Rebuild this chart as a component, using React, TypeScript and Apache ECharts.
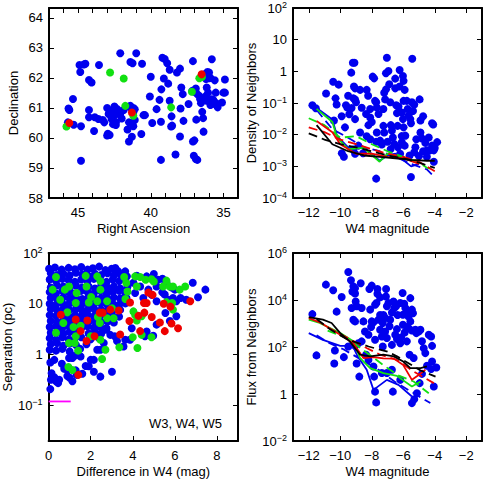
import React, { useEffect, useRef } from "react";
import * as echarts from "echarts";

// ---------- Panel 1: Right Ascension vs Declination ----------
const raDecBlue: [number, number][] = [
  [44.9, 62.43], [44.6, 62.45], [44.5, 62.47], [44.85, 62.2], [43.56, 62.43], [44.25, 61.93], [44.07, 61.85],
  [45.35, 61.3], [45.66, 60.98], [45.6, 60.93], [45.7, 60.52], [45.3, 60.44], [44.8, 60.39], [44.8, 59.24],
  [44.25, 60.93], [44.25, 60.69], [43.85, 60.69], [43.6, 60.63], [43.9, 60.23], [43.3, 60.6], [43.2, 60.52],
  [43.0, 61.0], [42.9, 60.8], [42.7, 60.9], [42.7, 60.63], [42.5, 61.05], [42.5, 60.75], [42.4, 60.52],
  [42.4, 60.43], [42.6, 60.46], [42.95, 60.14], [42.83, 60.1], [43.0, 60.08], [42.3, 60.96], [42.1, 60.8],
  [42.0, 60.65], [41.86, 60.93], [41.5, 61.05], [41.4, 61.07], [41.3, 60.96], [41.2, 61.0], [41.1, 60.96],
  [41.2, 60.85], [41.1, 60.6], [41.2, 60.39], [41.5, 60.52], [41.6, 60.28], [41.5, 59.88], [41.3, 60.04],
  [40.65, 60.13], [40.5, 60.76], [40.4, 60.76], [42.1, 62.82], [41.4, 62.53], [41.25, 62.49], [41.0, 62.82],
  [40.6, 62.47], [40.0, 62.04], [40.06, 61.38], [39.9, 60.5], [39.6, 60.96], [39.4, 61.27], [39.27, 61.62],
  [39.2, 62.67], [39.04, 62.63], [39.1, 61.98], [39.3, 60.54], [39.3, 59.27], [38.87, 62.49], [38.7, 62.27],
  [38.8, 61.81], [38.7, 61.24], [38.57, 60.72], [38.53, 60.41], [38.6, 60.38], [38.3, 59.45], [38.2, 62.18],
  [37.99, 62.31], [37.9, 61.68], [37.8, 61.46], [37.95, 60.98], [37.75, 60.57], [37.99, 60.05], [37.4, 61.13],
  [37.1, 62.56], [37.15, 61.57], [37.0, 61.54], [37.1, 59.88], [37.0, 59.92], [37.04, 59.41], [36.9, 59.3],
  [36.8, 59.27], [36.87, 60.61], [36.9, 61.65], [36.8, 61.46], [36.66, 61.4], [36.6, 61.29], [36.55, 61.16],
  [36.5, 61.29], [36.46, 60.87], [36.4, 60.66], [36.37, 60.21], [36.3, 62.12], [36.2, 61.96], [36.1, 62.2],
  [35.99, 62.18], [35.99, 61.99], [35.9, 62.0], [36.15, 61.68], [36.06, 61.51], [36.2, 61.4], [36.15, 61.24],
  [35.8, 61.29], [35.7, 61.27], [35.8, 62.62], [35.6, 61.92], [35.53, 61.51], [35.6, 61.13], [35.5, 61.16],
  [35.4, 61.02], [35.1, 61.18], [35.0, 61.51], [34.9, 61.51], [34.9, 61.95], [35.9, 61.1],
];
const raDecGreen: [number, number][] = [
  [45.8, 60.38], [42.8, 62.18], [41.86, 61.98], [41.75, 61.07], [41.2, 60.74], [38.6, 61.02],
  [37.17, 61.54], [36.66, 61.99], [36.48, 62.03],
];
const raDecRed: [number, number][] = [[45.6, 60.5], [41.3, 60.85], [36.5, 62.12]];

// ---------- Panel 2: Density of Neighbors vs W4 magnitude ----------
const densPoints: [number, number][] = [
  [-11.77, 0.085], [-11.55, 0.068], [-10.9, 0.2], [-10.45, 0.47], [-10.1, 0.38], [-10.3, 0.14], [-10.23, 0.09],
  [-10.4, 0.028], [-9.91, 0.038], [-9.64, 0.085], [-9.55, 0.072], [-9.5, 0.17], [-9.7, 0.017], [-9.9, 0.0026],
  [-9.77, 0.002], [-9.43, 0.044], [-9.28, 0.069], [-9.3, 0.91], [-9.2, 1.86], [-9.1, 1.86], [-9.13, 0.33],
  [-9.06, 0.29], [-9.17, 0.14], [-9.06, 0.13], [-9.0, 0.105], [-9.06, 0.031], [-9.17, 0.0034], [-9.06, 0.0025],
  [-8.74, 0.26], [-8.64, 0.071], [-8.74, 0.0117], [-8.55, 0.0026], [-8.85, 0.0045], [-8.32, 0.26], [-8.23, 0.17],
  [-8.36, 0.045], [-8.1, 0.065], [-8.1, 0.035], [-8.0, 0.025], [-8.21, 0.02], [-8.32, 0.0089], [-8.1, 0.0072],
  [-7.94, 0.68], [-7.85, 0.6], [-7.79, 0.117], [-7.72, 0.105], [-7.68, 0.072], [-7.57, 0.045], [-7.68, 0.0117],
  [-7.72, 0.006], [-7.47, 0.0065], [-7.36, 0.0049], [-7.72, 0.00041], [-7.26, 0.019], [-7.21, 0.0117],
  [-7.26, 0.065], [-7.15, 0.13], [-7.21, 0.21], [-7.09, 0.27], [-7.04, 2.7], [-7.1, 0.87], [-6.94, 1.02],
  [-6.89, 0.39], [-6.83, 0.105], [-6.79, 0.02], [-6.72, 0.0135], [-6.66, 0.0081], [-6.57, 0.0051], [-6.51, 0.29],
  [-6.51, 0.59], [-6.45, 0.085], [-6.4, 0.048], [-6.3, 0.078], [-6.36, 0.019], [-6.34, 0.004], [-6.23, 0.33],
  [-6.23, 1.1], [-6.02, 0.71], [-5.98, 0.5], [-5.91, 0.26], [-5.98, 0.117], [-6.09, 0.05], [-6.02, 0.031],
  [-5.98, 0.017], [-5.87, 0.0093], [-5.91, 0.0045], [-6.09, 0.0058], [-5.77, 0.117], [-5.72, 0.065], [-5.66, 0.04],
  [-5.55, 0.031], [-5.51, 0.023], [-5.45, 0.105], [-5.38, 0.056], [-5.43, 2.5], [-5.51, 0.00046], [-5.3, 0.089],
  [-5.23, 0.004], [-5.17, 0.0072], [-4.96, 0.13], [-4.91, 0.028], [-4.91, 0.0117], [-4.81, 0.0076], [-4.74, 0.003],
  [-4.6, 0.0055], [-4.49, 0.0032], [-4.38, 0.0081], [-4.17, 0.023], [-4.1, 0.021], [-4.17, 0.0045], [-4.06, 0.0032],
  [-4.06, 0.0014], [-3.85, 0.0058], [-4.74, 0.038], [-6.2, 0.0025], [-5.6, 0.0022], [-5.0, 0.0021], [-4.5, 0.002],
  [-4.3, 0.0032], [-4.0, 0.0038], [-6.8, 0.0035], [-7.0, 0.006], [-6.1, 0.009], [-5.3, 0.0028],
];
const densBlueSolid: [number, number][] = [[-11.5, 0.07], [-10.5, 0.03], [-10.2, 0.009], [-9.5, 0.004], [-8.5, 0.004], [-7.5, 0.0015], [-7, 0.0022], [-6.5, 0.0025], [-5.5, 0.001], [-5, 0.0012]];
const densBlueDash: [number, number][] = [[-11.5, 0.06], [-10.5, 0.015], [-9.5, 0.008], [-8.5, 0.004], [-7.5, 0.003], [-6.5, 0.002], [-5.5, 0.0012], [-4.5, 0.0008], [-4, 0.00045]];
const densGreenSolid: [number, number][] = [[-11.5, 0.065], [-10.5, 0.025], [-10.2, 0.008], [-9.5, 0.0035], [-8.5, 0.0038], [-7.5, 0.0014], [-7, 0.0025], [-6.5, 0.0022], [-6, 0.0018], [-5.5, 0.0015], [-5, 0.0015]];
const densGreenDash: [number, number][] = [[-12, 0.033], [-11, 0.02], [-10, 0.008], [-9, 0.009], [-8, 0.005], [-7, 0.003], [-6, 0.002], [-5, 0.0013], [-4.5, 0.0009], [-4, 0.0008]];
const densRedSolid: [number, number][] = [[-11.5, 0.027], [-10.5, 0.012], [-10, 0.005], [-9.5, 0.0035], [-9, 0.0025], [-8, 0.0025], [-7, 0.002], [-6, 0.0018], [-5, 0.0012]];
const densRedDash: [number, number][] = [[-12, 0.017], [-11, 0.012], [-10, 0.007], [-9, 0.005], [-8, 0.0035], [-7, 0.0025], [-6, 0.002], [-5, 0.0014], [-4, 0.0007]];
const densBlackSolid: [number, number][] = [[-11.5, 0.02], [-10.5, 0.005], [-9.5, 0.003], [-8.5, 0.0022], [-7.5, 0.002], [-6.5, 0.0018], [-5.5, 0.0016], [-4.5, 0.0015], [-4, 0.0015]];
const densBlackDash: [number, number][] = [[-12, 0.011], [-11, 0.007], [-10, 0.005], [-9, 0.004], [-8, 0.003], [-7, 0.0022], [-6, 0.0018], [-5, 0.0013], [-4, 0.0009]];

// ---------- Panel 3: Separation vs Difference in W4 ----------
const sepBlue: [number, number][] = [
  [0.02, 49], [0.3, 52], [0.62, 47], [0.95, 51], [1.25, 48], [1.55, 53], [1.85, 47], [2.1, 50], [2.4, 54], [2.7, 46], [3.0, 49], [3.3, 44],
  [0.1, 40], [0.4, 37], [0.7, 39], [1.0, 36], [1.3, 41], [1.6, 38], [1.9, 35], [2.2, 39], [2.5, 37], [2.8, 40], [3.1, 36], [3.4, 38], [3.7, 35],
  [0.05, 30], [0.35, 28], [0.65, 31], [0.95, 29], [1.25, 27], [1.55, 30], [1.85, 28], [2.15, 31], [2.45, 29], [2.75, 27], [3.05, 30], [3.35, 28], [3.65, 29],
  [0.1, 21], [0.4, 23], [0.7, 22], [1.0, 20], [1.3, 23], [1.6, 21], [1.9, 22], [2.2, 20], [2.5, 23], [2.8, 21], [3.1, 22], [3.4, 20], [3.75, 22],
  [0.05, 17], [0.35, 16], [0.65, 18], [0.95, 17], [1.25, 16], [1.55, 18], [1.85, 17], [2.15, 16], [2.45, 18], [2.75, 16], [3.05, 17], [3.35, 18], [3.65, 16],
  [0.1, 13], [0.4, 12.5], [0.7, 13.5], [1.0, 12.8], [1.3, 13.2], [1.6, 12.4], [1.9, 13.6], [2.2, 12.7], [2.5, 13.1], [2.8, 12.5], [3.1, 13.4], [3.4, 12.8], [3.7, 13],
  [0.05, 10], [0.35, 9.6], [0.65, 10.3], [0.95, 9.8], [1.25, 10.2], [1.55, 9.5], [1.85, 10.1], [2.15, 9.7], [2.45, 10.4], [2.75, 9.9], [3.05, 10], [3.35, 9.6], [3.65, 10.2],
  [0.1, 7.8], [0.4, 7.5], [0.7, 7.9], [1.0, 7.6], [1.3, 7.8], [1.6, 7.4], [1.9, 7.9], [2.2, 7.6], [2.5, 7.7], [2.8, 7.5], [3.1, 7.8], [3.4, 7.6],
  [0.05, 6], [0.35, 5.8], [0.65, 6.1], [0.95, 5.7], [1.25, 6], [1.55, 5.8], [1.85, 6.1], [2.15, 5.7], [2.45, 5.9], [2.75, 6], [3.05, 5.8], [3.35, 5.6],
  [0.1, 4.6], [0.4, 4.4], [0.7, 4.7], [1.0, 4.5], [1.3, 4.3], [1.6, 4.6], [1.9, 4.4], [2.2, 4.6], [2.5, 4.4], [2.8, 4.5], [3.1, 4.3],
  [0.05, 3.5], [0.35, 3.6], [0.65, 3.4], [0.95, 3.6], [1.25, 3.5], [1.55, 3.3], [1.85, 3.6], [2.15, 3.4], [2.45, 3.5], [2.75, 3.3],
  [0.1, 2.7], [0.4, 2.8], [0.7, 2.6], [1.0, 2.8], [1.3, 2.7], [1.9, 2.6], [2.2, 2.8], [2.5, 2.6],
  [0.05, 2.1], [0.35, 2.0], [0.65, 2.2], [0.95, 2.0], [1.25, 2.1], [1.55, 2.2], [2.0, 2.0], [2.4, 2.1],
  [0.1, 1.6], [0.4, 1.7], [0.7, 1.5], [1.0, 1.65], [1.3, 1.55], [1.8, 1.6],
  [0.05, 1.25], [0.35, 1.2], [0.65, 1.3], [1.0, 1.15], [1.5, 1.3],
  [3.17, 50.7], [3.64, 43.5], [3.72, 34.7], [4.19, 35.7], [4.66, 34.7], [5.0, 38.5], [5.2, 29.8], [5.41, 31.2],
  [5.6, 26.4], [5.4, 16.8], [5.52, 15.2], [5.68, 12], [5.91, 13], [6.07, 11.2], [6.27, 13], [6.54, 12],
  [6.85, 26], [7.45, 19], [7.1, 13.5], [6.0, 19], [5.85, 21], [5.55, 6.6], [5.76, 4.6], [6.07, 5.7],
  [4.03, 26], [4.35, 22], [4.74, 19], [5.13, 22], [4.9, 15], [4.5, 13], [4.11, 16.3], [5.13, 11.2],
  [0.08, 0.7], [0.14, 0.43], [0.08, 0.21], [0.27, 0.36], [0.11, 0.32], [0.35, 0.3], [0.45, 0.275], [0.5, 0.32],
  [0.63, 0.66], [0.74, 0.53], [0.89, 0.5], [0.97, 0.86], [1.13, 0.86], [1.24, 0.95], [1.52, 0.92], [1.76, 0.6],
  [1.91, 0.59], [2.15, 0.46], [2.46, 0.37], [3.01, 0.46], [0.89, 0.38], [1.0, 0.35], [1.13, 0.3], [1.33, 0.4],
  [1.6, 0.42], [0.27, 0.79], [1.29, 0.49], [2.0, 0.79], [2.31, 1.25], [2.62, 1.69], [3.25, 1.85], [3.56, 1.45],
  [3.64, 1.96], [3.87, 1.96], [3.95, 3.3], [4.58, 2.3], [4.66, 2.85], [4.97, 2.35], [5.13, 3.9], [2.93, 2.45],
  [2.74, 3.1], [3.14, 2.3], [2.46, 1.25], [2.15, 0.79],
];
const sepGreen: [number, number][] = [
  [0.35, 33.6], [0.19, 19], [0.77, 19], [0.97, 22], [1.76, 35.5], [2.31, 34.7], [2.46, 28], [1.8, 22], [2.02, 13.6],
  [1.91, 10.6], [2.31, 11.2], [2.78, 11.2], [2.46, 19], [1.33, 16.3], [0.55, 12], [1.29, 10.4], [0.89, 6.8],
  [0.7, 4.2], [0.35, 2.7], [1.18, 3.5], [0.97, 1.7], [1.24, 1.69], [1.4, 1.2], [0.94, 0.57], [1.13, 0.5],
  [2.0, 2.3], [2.46, 1.96], [2.7, 1.25], [2.54, 0.82], [2.43, 4.2], [2.34, 5.5], [2.78, 5.2], [3.01, 8.2],
  [3.09, 5.2], [3.36, 1.4], [3.59, 33.6], [3.69, 25.7], [3.75, 17.5], [3.65, 12.4], [4.11, 34.7], [4.35, 33.6],
  [4.19, 22], [4.61, 29.8], [4.89, 30.5], [5.0, 27.5], [5.44, 22], [5.6, 28.6], [5.76, 22], [5.91, 22],
  [6.23, 19], [6.49, 22], [5.6, 10.8], [5.87, 10.4], [5.91, 7.7], [4.03, 7.1], [4.11, 6.1], [4.42, 5.7],
  [4.19, 4.7], [4.0, 2.2], [4.22, 1.35], [4.42, 2.45], [4.89, 2.2], [1.52, 3.7], [1.29, 2.3],
];
const sepRed: [number, number][] = [
  [0.58, 6.1], [1.29, 4.9], [1.84, 4.7], [2.43, 6.7], [2.57, 6.7], [1.52, 2.9], [1.8, 1.85], [1.41, 0.4],
  [2.18, 2.3], [2.93, 7.7], [3.33, 7.4], [3.4, 2.5], [3.87, 10.6], [3.84, 4.6], [4.27, 5.8], [4.35, 2.9],
  [4.53, 10.4], [4.66, 10.4], [4.55, 6.7], [4.74, 16.6], [4.94, 15], [4.9, 5.5], [5.29, 4.3], [5.47, 10],
  [5.52, 2.9], [5.79, 8.8], [5.84, 4.1], [6.15, 3.3], [6.73, 11.2],
];
const sepLimit: [number, number][] = [[0, 0.12], [1.05, 0.12]];

// ---------- Panel 4: Flux from Neighbors vs W4 magnitude ----------
const fluxPoints: [number, number][] = [
  [-9.49, 155000], [-10.91, 45000], [-10.45, 26000], [-9.32, 69000], [-9.17, 38000], [-9.06, 32000], [-9.23, 23000],
  [-9.06, 19000], [-9.02, 8700], [-9.28, 4600], [-9.91, 13500], [-10.23, 3200], [-8.7, 52000], [-8.15, 29500],
  [-8.0, 41000], [-7.64, 29500], [-7.64, 18600], [-7.47, 12900], [-7.09, 29500], [-7.1, 14000], [-7.04, 5400],
  [-6.94, 7400], [-7.7, 7400], [-7.79, 6300], [-8.1, 3900], [-8.64, 4600], [-8.96, 5400], [-9.17, 1450],
  [-9.06, 1230], [-8.53, 1230], [-8.0, 1230], [-7.89, 1120], [-7.57, 1450], [-7.47, 2300], [-7.26, 2300],
  [-7.3, 1050], [-7.15, 1700], [-6.83, 1450], [-6.72, 2950], [-6.62, 8700], [-6.57, 4600], [-6.45, 5400],
  [-6.36, 2300], [-6.19, 7400], [-6.04, 20000], [-5.94, 6900], [-6.02, 2350], [-6.02, 890], [-5.87, 4600],
  [-5.77, 3200], [-5.66, 2000], [-5.55, 12000], [-5.45, 3900], [-5.38, 2750], [-5.55, 1230], [-5.66, 630],
  [-5.45, 500], [-5.23, 540], [-5.17, 390], [-5.02, 460], [-4.91, 540], [-4.81, 175], [-4.7, 89], [-4.6, 55],
  [-4.38, 330], [-4.23, 280], [-4.17, 112], [-4.17, 24], [-3.9, 13.5], [-4.06, 2.1], [-4.23, 11.5], [-4.49, 16],
  [-4.81, 7.2], [-4.96, 2.9], [-5.13, 1.07], [-5.45, 0.41], [-5.3, 0.6], [-6.19, 4], [-6.66, 1.26], [-6.72, 10.7],
  [-7.04, 7.8], [-7.36, 7.8], [-7.85, 5.5], [-7.79, 1.26], [-7.89, 14.8], [-7.72, 0.44], [-8.21, 28], [-8.36, 47],
  [-8.79, 5.5], [-8.96, 20], [-8.85, 145], [-9.06, 112], [-9.49, 105], [-9.77, 37], [-10.34, 71], [-10.38, 20],
  [-11.51, 44], [-11.77, 2500], [-7.47, 540], [-7.36, 280], [-7.04, 240], [-6.72, 123], [-6.51, 330], [-6.4, 220],
  [-6.19, 145], [-6.13, 257], [-5.91, 417], [-5.77, 708], [-6.4, 575], [-6.87, 760], [-7.15, 457], [-7.79, 204],
  [-8.04, 708], [-8.21, 331], [-8.43, 457], [-8.64, 174], [-7.3, 105], [-5.77, 174], [-5.6, 47], [-5.34, 34],
];
const fluxBlackSolid: [number, number][] = [[-12, 1860], [-11.1, 1450], [-10.55, 1050], [-10, 390], [-9.4, 174], [-8.74, 47], [-8.1, 40], [-7.26, 47], [-6.6, 40], [-6.0, 24], [-5.55, 12.6], [-4.9, 12.6], [-4.5, 15]];
const fluxBlackDash: [number, number][] = [[-11.5, 1550], [-10.66, 575], [-9.5, 200], [-8.2, 105], [-7, 63], [-6.4, 40], [-4.9, 10], [-3.95, 5.5]];
const fluxRedSolid: [number, number][] = [[-12, 1700], [-11.3, 1120], [-10, 330], [-9.17, 145], [-8.53, 34], [-7.9, 37], [-7.26, 33], [-6.6, 32], [-6.0, 17], [-5.45, 4], [-5.0, 6.6], [-4.6, 10.7]];
const fluxRedDash: [number, number][] = [[-10.8, 680], [-10.0, 355], [-8.3, 89], [-7.47, 47], [-6.4, 28], [-5.34, 9.1], [-4.06, 2.9]];
const fluxGreenSolid: [number, number][] = [[-12, 1450], [-11.3, 1050], [-10, 390], [-9.17, 174], [-8.74, 34], [-8.1, 12.6], [-7.26, 7.8], [-6.4, 5.9], [-5.45, 2.1], [-4.9, 3.4]];
const fluxGreenDash: [number, number][] = [[-10.8, 500], [-9.5, 224], [-7.36, 19], [-6.4, 6.6], [-5.34, 3.4], [-4.38, 1.07]];
const fluxBlueSolid: [number, number][] = [[-12, 390], [-11.1, 200], [-10, 112], [-9.2, 112], [-8.9, 40], [-8.32, 10.7], [-7.89, 1.5], [-7.04, 4], [-6.3, 2.45], [-5.45, 0.78]];
const fluxBlueDash: [number, number][] = [[-11.5, 316], [-10.8, 158], [-9.8, 80], [-8.5, 25], [-7.5, 10], [-6.5, 3.2], [-5.5, 1.26], [-4.28, 0.41]];

// ---------- styling ----------
const FONT = "'Liberation Sans', Arial, Helvetica, sans-serif";
const BLUE = "#0000ee";
const GREEN = "#11e011";
const RED = "#ee0000";
const BLACK = "#000000";
const MAGENTA = "#ff00ff";

const RICH = {
  s: { fontSize: 9, verticalAlign: "top", lineHeight: 9, fontFamily: FONT, color: "#000" },
};

const minus = (s: string) => s.replace("-", "\u2212");
const powFmt = (v: number) => {
  const l = Math.log10(v);
  const k = Math.round(l);
  if (Math.abs(l - k) > 1e-6) return "";
  if (k === 0) return "1";
  if (k === 1) return "10";
  return "10{s|" + minus(String(k)) + "}";
};

type AxisCfg = {
  type: "value" | "log";
  min: number;
  max: number;
  interval?: number;
  splitNumber?: number;
  inverse?: boolean;
  name: string;
  nameGap: number;
  fmt: (v: number) => string;
};

function axisPair(grid: number, c: AxisCfg, dir: "x" | "y") {
  const base: any = {
    gridIndex: grid,
    type: c.type,
    min: c.min,
    max: c.max,
    inverse: !!c.inverse,
    splitLine: { show: false },
    axisLine: { show: true, onZero: false, lineStyle: { color: "#000", width: 2 } },
    axisTick: { show: true, inside: true, length: 5, lineStyle: { color: "#000", width: 1 } },
  };
  if (c.interval != null) base.interval = c.interval;
  if (c.splitNumber != null) base.splitNumber = c.splitNumber;
  if (c.type === "log") base.logBase = 10;
  const main = {
    ...base,
    position: dir === "x" ? "bottom" : "left",
    name: c.name,
    nameLocation: "middle",
    nameGap: c.nameGap,
    nameRotate: dir === "y" ? 90 : 0,
    nameTextStyle: { color: "#000", fontSize: 13, fontFamily: FONT },
    axisLabel: {
      show: true,
      margin: dir === "x" ? 6 : 6,
      formatter: c.fmt,
      color: "#000",
      fontSize: 13,
      fontFamily: FONT,
      lineHeight: 16,
      rich: RICH,
      showMinLabel: true,
      showMaxLabel: true,
    },
  };
  const mirror = { ...base, position: dir === "x" ? "top" : "right", axisLabel: { show: false } };
  return [main, mirror];
}

const grids = [
  { left: 49, top: 8, width: 189, height: 190 },
  { left: 293, top: 8, width: 189, height: 190 },
  { left: 48, top: 253, width: 190, height: 188 },
  { left: 293, top: 253, width: 189, height: 188 },
];

const xAxes = [
  ...axisPair(0, { type: "value", min: 34, max: 47, interval: 1, inverse: true, name: "Right Ascension", nameGap: 24, fmt: (v) => (v % 5 === 0 ? String(v) : "") }, "x"),
  ...axisPair(1, { type: "value", min: -13, max: -1, splitNumber: 6, name: "W4 magnitude", nameGap: 24, fmt: (v) => (v % 2 === 0 ? minus(String(v)) : "") }, "x"),
  ...axisPair(2, { type: "value", min: 0, max: 9, interval: 2, name: "Difference in W4 (mag)", nameGap: 24, fmt: (v) => (v % 2 === 0 ? String(v) : "") }, "x"),
  ...axisPair(3, { type: "value", min: -13, max: -1, splitNumber: 6, name: "W4 magnitude", nameGap: 24, fmt: (v) => (v % 2 === 0 ? minus(String(v)) : "") }, "x"),
];
const yAxes = [
  ...axisPair(0, { type: "value", min: 58, max: 64.33, interval: 1, name: "Declination", nameGap: 29, fmt: (v) => (Number.isInteger(v) ? String(v) : "") }, "y"),
  ...axisPair(1, { type: "log", min: 1e-4, max: 100, name: "Density of Neighbors", nameGap: 33, fmt: powFmt }, "y"),
  ...axisPair(2, { type: "log", min: 0.02, max: 100, name: "Separation (pc)", nameGap: 27, fmt: powFmt }, "y"),
  ...axisPair(3, { type: "log", min: 0.01, max: 1e6, interval: 2, name: "Flux from Neighbors", nameGap: 33, fmt: powFmt }, "y"),
];

const scatter = (g: number, data: [number, number][], color: string, z = 2) => ({
  type: "scatter",
  xAxisIndex: 2 * g,
  yAxisIndex: 2 * g,
  data,
  symbolSize: 8,
  itemStyle: { color, opacity: 1 },
  z,
  silent: true,
});
const line = (g: number, data: [number, number][], color: string, dashed: boolean) => ({
  type: "line",
  xAxisIndex: 2 * g,
  yAxisIndex: 2 * g,
  data,
  showSymbol: false,
  symbol: "none",
  lineStyle: { color, width: 1.8, type: dashed ? [9, 5] : "solid" },
  z: 5,
  silent: true,
});

const option: any = {
  animation: false,
  grid: grids,
  xAxis: xAxes,
  yAxis: yAxes,
  series: [
    scatter(0, raDecBlue, BLUE),
    scatter(0, raDecGreen, GREEN, 3),
    scatter(0, raDecRed, RED, 4),

    scatter(1, densPoints, BLUE),
    line(1, densBlueSolid, BLUE, false),
    line(1, densBlueDash, BLUE, true),
    line(1, densGreenSolid, GREEN, false),
    line(1, densGreenDash, GREEN, true),
    line(1, densRedSolid, RED, false),
    line(1, densRedDash, RED, true),
    line(1, densBlackSolid, BLACK, false),
    line(1, densBlackDash, BLACK, true),

    scatter(2, sepBlue, BLUE),
    scatter(2, sepGreen, GREEN, 3),
    scatter(2, sepRed, RED, 4),
    line(2, sepLimit, MAGENTA, false),

    scatter(3, fluxPoints, BLUE),
    line(3, fluxBlueSolid, BLUE, false),
    line(3, fluxBlueDash, BLUE, true),
    line(3, fluxGreenSolid, GREEN, false),
    line(3, fluxGreenDash, GREEN, true),
    line(3, fluxRedSolid, RED, false),
    line(3, fluxRedDash, RED, true),
    line(3, fluxBlackSolid, BLACK, false),
    line(3, fluxBlackDash, BLACK, true),
  ],
  graphic: [
    {
      type: "text",
      x: 149,
      y: 423,
      style: { text: "W3, W4, W5", fontSize: 13, fontFamily: FONT, fill: "#000", verticalAlign: "middle", align: "left" },
    },
  ],
};

export default function App() {
  const ref = useRef<HTMLDivElement>(null);
  useEffect(() => {
    document.body.style.margin = "0";
    const chart = echarts.init(ref.current!, null, { renderer: "svg" });
    chart.setOption(option);
    return () => chart.dispose();
  }, []);
  return <div ref={ref} style={{ width: 485, height: 486, background: "#fff" }} />;
}
